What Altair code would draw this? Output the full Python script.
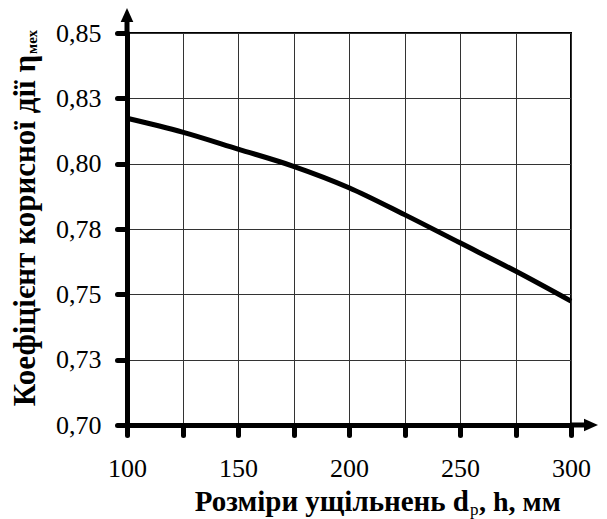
import altair as alt
import pandas as pd

# ---- data ----
x_vals = [100, 125, 150, 175, 200, 225, 250, 275, 300]
eta_vals = [0.8174, 0.8121, 0.8056, 0.7990, 0.7908, 0.7805, 0.7697, 0.7589, 0.7474]

x_ticks = [100, 125, 150, 175, 200, 225, 250, 275, 300]
x_tick_labels = ["100", "", "150", "", "200", "", "250", "", "300"]
y_ticks = [0.70, 0.725, 0.75, 0.775, 0.80, 0.825, 0.85]
y_tick_labels = ["0,70", "0,73", "0,75", "0,78", "0,80", "0,83", "0,85"]

x_title_main = "Розміри ущільнень d"
x_title_sub = "p"
x_title_rest = ", h, мм"
y_title_main = "Коефіцієнт корисної дії η"
y_title_sub = "мех"

FONT = "Liberation Serif"
W, H = 444, 392

df = pd.DataFrame({"x": x_vals, "eta": eta_vals})

x_expr = "[" + ",".join("'%s'" % s for s in x_tick_labels) + "][round((datum.value-100)/25)]"
y_expr = "[" + ",".join("'%s'" % s for s in y_tick_labels) + "][round((datum.value-0.7)/0.025)]"

common_axis = dict(
    domainColor="black", domainWidth=5, domainCap="round",
    tickColor="black", tickWidth=5, tickSize=10, tickCap="round",
    labelFont=FONT, labelFontSize=26, labelColor="black", labelFlush=False,
    labelOverlap=False,
    grid=True, gridColor="#333333", gridWidth=1, title=None,
)

xs = alt.X("x:Q", scale=alt.Scale(domain=[100, 300], nice=False, zero=False),
           axis=alt.Axis(values=x_ticks, labelExpr=x_expr, labelPadding=20, **common_axis))
ys = alt.Y("eta:Q", scale=alt.Scale(domain=[0.70, 0.85], nice=False, zero=False),
           axis=alt.Axis(values=y_ticks, labelExpr=y_expr, labelPadding=16, **common_axis))

line = alt.Chart(df).mark_line(interpolate="monotone", color="black", strokeWidth=5).encode(x=xs, y=ys)

one = pd.DataFrame({"k": [0]})
base = alt.Chart(one)

# arrow on y axis
y_arrow_line = base.mark_rule(color="black", strokeWidth=5).encode(
    x=alt.value(0), y=alt.value(0), y2=alt.value(-14))
y_arrow_head = base.mark_point(shape="M0,-1L0.9,1L-0.9,1Z", filled=True, color="black",
                               opacity=1, size=196).encode(x=alt.value(0), y=alt.value(-18))
# arrow on x axis
x_arrow_line = base.mark_rule(color="black", strokeWidth=5).encode(
    x=alt.value(W), x2=alt.value(W + 16), y=alt.value(H))
x_arrow_head = base.mark_point(shape="M1,0L-1,-0.9L-1,0.9Z", filled=True, color="black",
                               opacity=1, size=196).encode(x=alt.value(W + 20), y=alt.value(H))

# x title
xt1 = base.mark_text(text=x_title_main, font=FONT, fontSize=29, fontWeight="bold",
                     align="right", baseline="alphabetic", color="black").encode(
    x=alt.value(342), y=alt.value(478))
xt2 = base.mark_text(text=x_title_sub, font=FONT, fontSize=17,
                     align="left", baseline="alphabetic", color="black").encode(
    x=alt.value(343), y=alt.value(482))
xt3 = base.mark_text(text=x_title_rest, font=FONT, fontSize=28, fontWeight="bold",
                     align="left", baseline="alphabetic", color="black").encode(
    x=alt.value(352), y=alt.value(478))

# y title (rotated)
yt1 = base.mark_text(text=y_title_main, font=FONT, fontSize=31, fontWeight="bold", angle=270,
                     align="right", baseline="alphabetic", color="black").encode(
    x=alt.value(-92), y=alt.value(22))
yt2 = base.mark_text(text=y_title_sub, font=FONT, fontSize=15, fontWeight="bold", angle=270,
                     align="left", baseline="alphabetic", color="black").encode(
    x=alt.value(-90), y=alt.value(21))

chart = alt.layer(
    line, y_arrow_line, y_arrow_head, x_arrow_line, x_arrow_head, xt1, xt2, xt3, yt1, yt2
).properties(
    width=W, height=H,
    autosize=alt.AutoSizeParams(type="none"),
    padding={"left": 127, "top": 33, "right": 36, "bottom": 94},
    background="white",
).configure_view(stroke="black", strokeWidth=2)

chart.save("out.html", embed_options={"renderer": "svg", "actions": False})
